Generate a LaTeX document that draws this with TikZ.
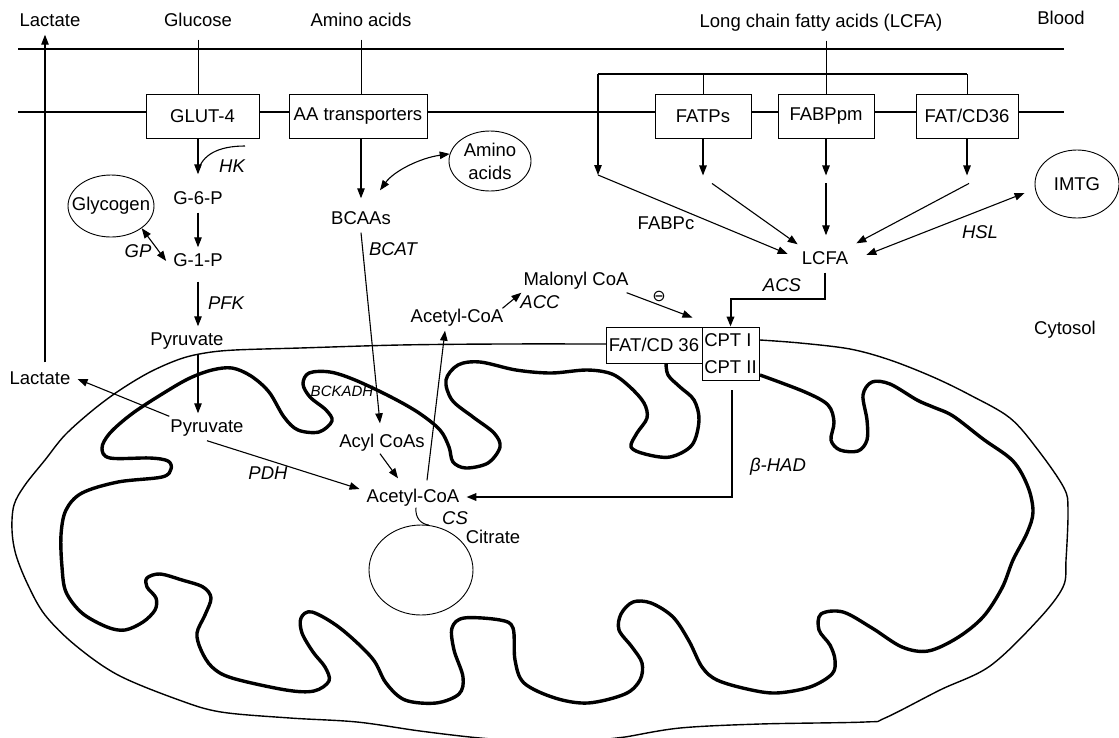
\documentclass[tikz,border=0pt]{standalone}
\usepackage{fontspec}
\setmainfont{Liberation Sans}
\newfontfamily\symfont{DejaVu Sans}
\usepackage{tikz}
\usetikzlibrary{arrows.meta, positioning, calc, shapes.geometric}

\begin{document}
\begin{tikzpicture}[x=1pt, y=-1pt, >={Triangle[length=10pt, width=7.5pt]},
    font=\fontsize{18.5}{22}\selectfont,
    txt/.style={inner xsep=7pt, inner ysep=6pt, text height=13pt, text depth=2pt},
    enz/.style={txt, font=\fontsize{18.5}{22}\selectfont\itshape},
    box/.style={draw, fill=white, line width=0.9pt, minimum height=44pt, inner sep=2pt},
    blob/.style={draw, ellipse, line width=0.9pt, inner sep=0pt},
    arr/.style={->, line width=1.1pt},
    darr/.style={<->, line width=1.1pt},
    bar/.style={line width=2.2pt},
    outermem/.style={line width=1.4pt},
    innermem/.style={line width=3.4pt, line join=round}]
    \useasboundingbox (0,0) rectangle (1119,737);

    \node[txt] (lacttop) at (50,21) {Lactate};
    \node[txt] (glucose) at (198,21) {Glucose};
    \node[txt] (aminotop) at (361,21) {Amino acids};
    \node[txt] (lcfatop) at (821,22) {Long chain fatty acids (LCFA)};
    \node[txt] (blood) at (1061,19) {Blood};
    \node[txt] (cytosol) at (1065,329) {Cytosol};

    \draw[bar] (18,49) -- (1064,49);
    \draw[bar] (18,112) -- (1064,112);

    \node[box, minimum width=113pt] (glut) at (202.5,116) {GLUT-4};
    \node[box, minimum width=138pt] (aatr) at (358,116) {AA transporters};
    \node[box, minimum width=96pt] (fatps) at (703,116) {FATPs};
    \node[box, minimum width=96pt] (fabppm) at (826,116) {FABPpm};
    \node[box, minimum width=102pt] (fatcd) at (967,116) {FAT/CD36};

    \draw[line width=1pt, shorten <=5pt] (glucose.south) -- (glucose.south |- glut.north);
    \draw[line width=1pt, shorten <=5pt] (aminotop.south) -- (aminotop.south |- aatr.north);
    \draw[line width=1pt, shorten <=5pt] (fabppm.north |- lcfatop.south) -- (fabppm.north);

    \coordinate (fork) at (598,74);
    \coordinate (forkend) at (598,175);
    \draw[line width=1.8pt] (fork) -- (fork -| fatcd);
    \draw[line width=1pt] (fork -| fatps) -- (fatps.north);
    \draw[line width=1pt] (fork -| fatcd) -- (fatcd.north);
    \draw[arr] (fork) -- (forkend);
    \foreach \b in {fatps, fabppm, fatcd}
        \draw[arr] (\b.south) -- ++(0,37);

    \node[txt] (g6p) at (198,199) {G-6-P};
    \node[txt] (g1p) at (198,261) {G-1-P};
    \node[txt] (pyrc) at (187,340) {Pyruvate};
    \node[txt] (pyrm) at (207,427) {Pyruvate};
    \node[txt] (lactlow) at (40,379) {Lactate};
    \node[blob, minimum width=86pt, minimum height=62pt] (glyco) at (111,206) {\makebox[0pt]{Glycogen}};
    \node[enz] (hk) at (232,167) {HK};
    \node[enz] (gp) at (138,252) {GP};
    \node[enz] (pfk) at (226,304) {PFK};

    \coordinate (hkstart) at (245,146);
    \draw[arr, shorten >=11pt] (glut.south -| g6p) -- (g6p.north);
    \draw[line width=1.1pt] (hkstart) .. controls (218,146) and (202,155) .. ($(g6p.north)+(0,-14)$);
    \draw[arr] (g6p) -- (g1p);
    \draw[darr] (glyco.south east) -- (g1p.west);
    \draw[arr, shorten <=7pt] (g1p.south) -- (g1p.south |- pyrc.north);
    \draw[arr] (g1p |- pyrc.south) -- (g1p |- pyrm.north);
    \draw[arr] ($(pyrm.north west)+(6,3)$) -- (lactlow.east);
    \draw[arr] ($(lactlow.north)+(5,-3)$) -- ($(lacttop.south)+(-5,0)$);

    \node[txt] (bcaa) at (361,219) {BCAAs};
    \node[enz] (bcat) at (393,250) {BCAT};
    \node[blob, minimum width=82pt, minimum height=60pt, align=center, font=\fontsize{18.5}{23}\selectfont] (amino) at (490,161) {Amino\\acids};
    \draw[arr] (aatr.south -| bcaa) -- ($(bcaa.north)+(0,-7)$);
    \draw[darr] ($(bcaa.north)+(19,-15)$) .. controls (394,171) and (420,158) .. (amino.170);

    \node[txt] (lcfa) at (825,259) {LCFA};
    \node[txt] (fabpc) at (666,224) {FABPc};
    \node[enz] (hsl) at (980,233) {HSL};
    \node[enz] (acs) at (782,286) {ACS};
    \node[blob, minimum width=84pt, minimum height=68pt] (imtg) at (1077,184) {IMTG};
    \draw[arr] (forkend) -- ($(lcfa.west)+(-7,-5)$);
    \draw[arr] ($(fatps.south)+(9,45)$) -- ($(lcfa.north west)+(3,-1)$);
    \draw[arr] ($(fabppm.south)+(0,45)$) -- ($(lcfa.north)+(1,-10)$);
    \draw[arr] ($(fatcd.south)+(2,45)$) -- ($(lcfa.north east)+(1,-2)$);
    \draw[darr] ($(lcfa.east)+(11,-4)$) -- ($(imtg.west)+(-10,9)$);

    \draw[outermem] plot[smooth, tension=0.55] coordinates {(606,344) (500,344) (400,345) (300,348) (235,350) (205,353) (180,359) (150,372) (120,390) (93,410) (65,435) (45,460) (25,485) (14,505) (12,530) (16,555) (28,585) (45,615) (75,645) (118,675) (179,700) (221,712) (290,718) (357,722) (420,731) (480,738) (540,742) (600,740) (625,737) (680,728) (760,724) (865,722) (885,718) (940,690) (990,666) (1038,620) (1063,587) (1066,560) (1068,510) (1064,488) (1038,450) (1010,418) (970,395) (933,377) (890,360) (850,349) (800,343) (760,340)};
    \draw[innermem] plot[smooth, tension=0.55] coordinates {(666,362) (668,375) (680,387) (694,400) (699,420) (692,445) (670,457) (645,454) (631,447) (637,433) (647,418) (644,403) (630,387) (612,374) (587,370) (551,373) (516,370) (480,362) (458,365) (446,380) (452,400) (473,417) (494,433) (500,447) (488,463) (466,468) (453,462) (449,447) (440,430) (419,413) (391,397) (355,380) (330,372) (309,373) (303,384) (310,397) (326,410) (332,421) (319,432) (298,430) (284,417) (269,392) (251,376) (232,368) (212,370) (190,378) (167,391) (133,413) (110,433) (102,448) (110,458) (150,458) (168,461) (171,469) (162,477) (118,482) (82,493) (66,510) (61,535) (62,567) (66,592) (82,613) (107,627) (125,630) (143,622) (155,610) (156,598) (147,587) (147,578) (160,574) (182,580) (203,587) (211,598) (205,615) (197,633) (201,650) (212,667) (232,678) (286,690) (314,691) (329,681) (325,667) (313,652) (302,633) (301,618) (312,612) (340,628) (372,658) (386,683) (405,700) (436,703) (459,694) (463,677) (454,650) (452,628) (464,618) (500,620) (513,628) (515,660) (524,683) (555,698) (588,703) (625,694) (640,680) (642,663) (632,647) (619,630) (621,614) (633,602) (651,603) (673,617) (689,641) (702,667) (717,680) (747,689) (776,693) (810,687) (832,674) (835,660) (830,645) (819,630) (821,614) (843,612) (872,628) (902,647) (928,651) (957,638) (983,617) (1002,588) (1013,560) (1027,533) (1033,512) (1028,487) (1013,461) (983,439) (953,416) (933,407) (917,400) (890,384) (872,382) (863,395) (867,420) (867,440) (858,451) (840,450) (831,440) (834,422) (828,405) (805,392) (760,375)};

    \node[box, minimum width=96pt, minimum height=36pt, inner sep=1pt] (fatm) at (654,345) {FAT/CD 36};
    \node[box, minimum width=57pt, minimum height=53pt, align=left, inner xsep=2pt, font=\fontsize{18.5}{27}\selectfont] (cpt) at (730.5,353.5) {CPT I\\CPT II};

    \node[txt] (malonyl) at (576,280) {Malonyl CoA};
    \node[txt] (acetylc) at (457,317) {Acetyl-CoA};
    \node[enz] (acc) at (540,303) {ACC};
    \node[inner sep=0pt, font=\symfont\fontsize{16}{16}\selectfont] (inhib) at (659,296) {⊖};
    \node[txt, font=\fontsize{15}{18}\selectfont\itshape] (bckadh) at (342,391) {BCKADH};
    \node[txt] (acyl) at (382,442) {Acyl CoAs};
    \node[txt] (acetylm) at (413,497) {Acetyl-CoA};
    \node[enz] (pdh) at (268,474) {PDH};
    \node[enz] (betahad) at (778,466) {β-HAD};
    \node[enz] (cs) at (455,519) {CS};
    \node[txt] (citrate) at (493,538) {Citrate};
    \node[blob, minimum width=104pt, minimum height=90pt] (citr) at (421,570) {};

    \draw[line width=2pt, ->] (lcfa.south) -- ++(0,26) -| (cpt.north);
    \draw[line width=2pt, ->] ($(cpt.south)+(1,10)$) |- (acetylm.east);
    \draw[arr] ($(acetylc.north east)+(-8,5)$) -- ($(malonyl.south west)+(5,-1)$);
    \draw[arr] ($(malonyl.south east)+(-9,-1)$) -- ($(fatm.north east)+(-10,-9)$);
    \draw[arr] (bcaa.south) -- ($(acyl.north)+(-2,-5)$);
    \draw[arr] ($(acyl.south)+(-2,-2)$) -- ($(acetylm.north)+(-15,-5)$);
    \draw[arr] ($(acetylm.north)+(14,-3)$) -- ($(acetylc.south)+(-12,0)$);
    \draw[arr] (pyrm.south) -- ($(acetylm.west)+(0,-8)$);
    \draw[line width=1pt] ($(acetylm.south)+(3,-3)$) .. controls (415,518) and (421,524) .. (citr.80);
\end{tikzpicture}
\end{document}
